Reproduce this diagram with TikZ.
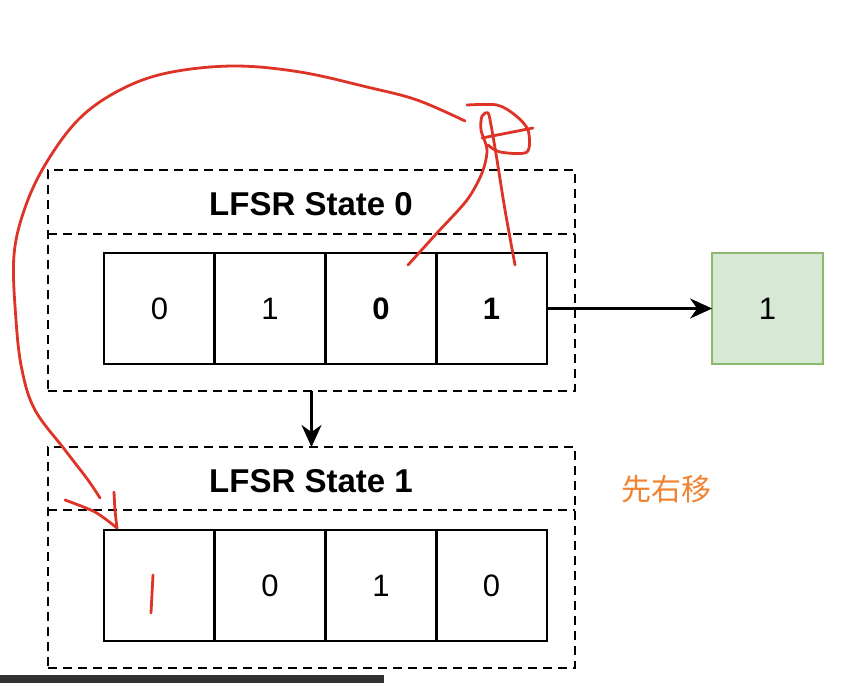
\documentclass[tikz,border=0pt]{standalone}
\usepackage{fontspec}
\setmainfont{Liberation Sans}
\newfontfamily\cjk{Noto Sans CJK SC}
\usetikzlibrary{arrows.meta}

\definecolor{penred}{RGB}{222,52,40}
\definecolor{noteorange}{RGB}{240,130,48}
\definecolor{outgreen}{RGB}{140,185,110}
\definecolor{outfill}{RGB}{215,232,212}
\definecolor{playerbar}{RGB}{50,50,50}

\tikzset{
  cellbox/.style={draw, line width=2.6pt, minimum width=110.75pt, minimum height=111pt,
    inner sep=0pt, outer sep=0pt, font=\fontsize{31}{37}\selectfont},
  outbox/.style={cellbox, draw=outgreen, fill=outfill},
  groupbox/.style={draw, line width=2.6pt, dash pattern=on 9pt off 6pt,
    minimum width=527pt, minimum height=221pt, inner sep=0pt, outer sep=0pt},
  divline/.style={line width=2.6pt, dash pattern=on 9pt off 6pt},
  grouptitle/.style={font=\bfseries\fontsize{33}{40}\selectfont},
  flow/.style={-{Stealth[length=22pt,width=20pt,inset=7pt]}, line width=2.4pt},
  pen/.style={draw=penred, line width=2.8pt, line cap=round, line join=round},
}

\begin{document}
\begin{tikzpicture}[x=1pt,y=-1pt]
	\useasboundingbox (0,0) rectangle (861,683);

	%State 0
	\node[groupbox] (g0) at (311.5,280.5) {};
	\draw[divline] (48,234) -- (575,234);
	\node[grouptitle] (t0) at (311,204) {LFSR State 0};
	\node[cellbox] (s0a) at (159.4,308.5) {0};
	\node[cellbox] (s0b) at (270.1,308.5) {1};
	\node[cellbox] (s0c) at (380.9,308.5) {\bfseries 0};
	\node[cellbox] (s0d) at (491.6,308.5) {\bfseries 1};

	%Output bit
	\node[outbox] (out) at (767.5,308.5) {1};
	\draw[flow] (s0d.east) -- (out.west);

	%State 1
	\node[groupbox] (g1) at (311.5,557.5) {};
	\draw[divline] (48,510) -- (575,510);
	\node[grouptitle] (t1) at (311,481) {LFSR State 1};
	\node[cellbox] (s1a) at (159.4,585.5) {};
	\node[cellbox] (s1b) at (270.1,585.5) {0};
	\node[cellbox] (s1c) at (380.9,585.5) {1};
	\node[cellbox] (s1d) at (491.6,585.5) {0};

	\draw[flow] (g0.south) -- (g1.north);

	\node[text=noteorange, font=\cjk\fontsize{30}{36}\selectfont] (note) at (666,489) {先右移};

	%Hand-drawn feedback
	\draw[pen] plot[smooth] coordinates {(408,265) (437,233) (467,200) (482,173) (487,150) (481,130) (482,116) (488,113) (491,125) (497,160) (505,210) (515,265)};
	\draw[pen] plot[smooth] coordinates {(467,105) (497,105) (515,115) (528,130) (527,152) (500,152) (488,145)};
	\draw[pen] (482,138) -- (533,128);
	\draw[pen] plot[smooth, tension=0.6] coordinates {(465,121) (417,100) (367,87) (300,72) (233,66) (167,73) (120,90) (80,118) (48,160) (26,205) (14,255) (16,320) (22,370) (35,410) (65,450) (88,480) (100,498)};
	\draw[pen] plot[smooth] coordinates {(65,500) (95,512) (117,528)};
	\draw[pen] plot[smooth] coordinates {(114,492) (115,510) (117,528)};
	\draw[pen] (153,575) -- (151,613);

	%Player bar
	\fill[playerbar] (0,675) rectangle (384,683);

\end{tikzpicture}
\end{document}
